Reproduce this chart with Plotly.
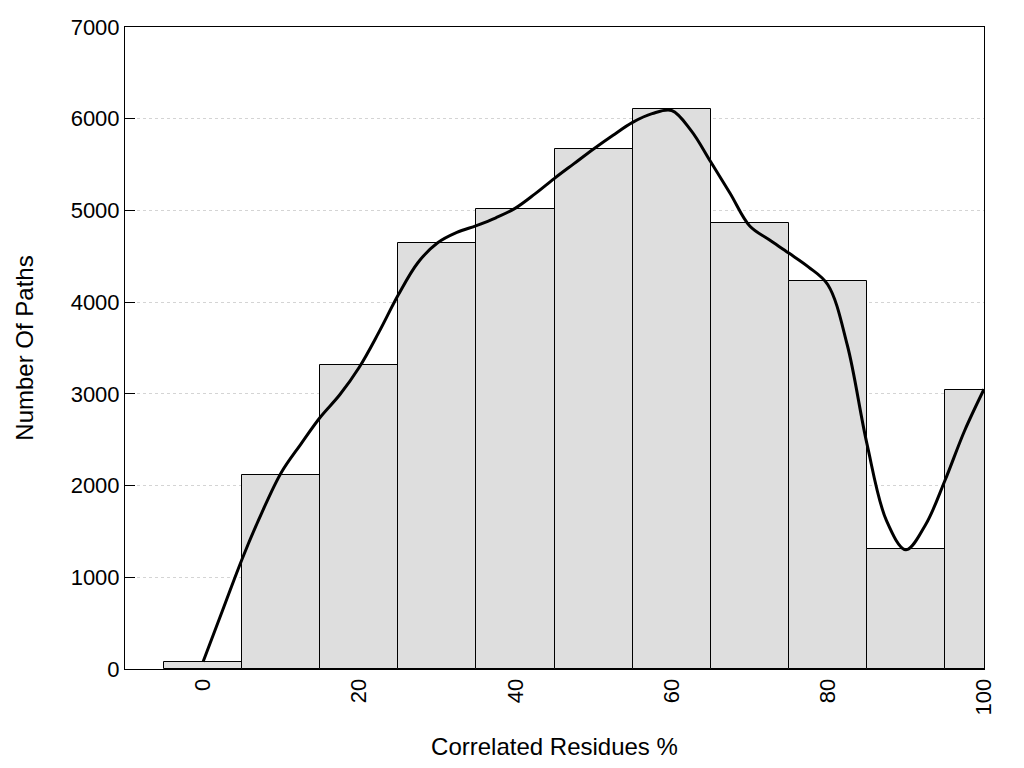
import plotly.graph_objects as go

# Histogram bins (centre, %) and counts
bin_centers = [0, 10, 20, 30, 40, 50, 60, 70, 80, 90, 100]
bin_counts = [80, 2115, 3315, 4645, 5015, 5670, 6105, 4865, 4230, 1310, 3040]

# Smoothed density curve
curve_x = [0, 2.5, 5, 7.5, 10, 12.5, 15, 17.5, 20, 22.5, 25, 27.5, 30, 32.5,
           35, 37.5, 40, 42.5, 45, 47.5, 50, 52.5, 55, 57.5, 60, 62.5, 65,
           67.5, 70, 72.5, 75, 77.5, 80, 82.5, 85, 87.5, 90, 92.5, 95, 97.5, 100]
curve_y = [80, 640, 1200, 1700, 2140, 2450, 2745, 2990, 3290, 3670, 4080,
           4430, 4645, 4760, 4835, 4920, 5025, 5180, 5350, 5510, 5670, 5820,
           5960, 6055, 6090, 5870, 5530, 5185, 4830, 4680, 4535, 4385, 4190,
           3530, 2460, 1620, 1300, 1570, 2055, 2595, 3050]

x_ticks = [0, 20, 40, 60, 80, 100]
y_ticks = [0, 1000, 2000, 3000, 4000, 5000, 6000, 7000]

FONT = "Liberation Sans, Arial, sans-serif"

fig = go.Figure()
fig.add_trace(go.Bar(
    x=bin_centers, y=bin_counts, width=10,
    marker=dict(color="#DEDEDE", line=dict(color="black", width=1)),
    showlegend=False, hoverinfo="x+y",
))
fig.add_trace(go.Scatter(
    x=curve_x, y=curve_y, mode="lines",
    line=dict(color="black", width=3, shape="spline", smoothing=1.0),
    showlegend=False,
))

fig.update_layout(
    width=1008, height=752,
    margin=dict(l=117, r=32, t=19, b=91),
    paper_bgcolor="white", plot_bgcolor="white",
    font=dict(family=FONT, size=22, color="black"),
    bargap=0,
)
fig.update_xaxes(
    range=[-10, 100], tickvals=x_ticks, ticktext=[str(v) for v in x_ticks],
    tickangle=-90, ticks="", showgrid=False, zeroline=False,
    showline=True, linecolor="black", linewidth=1, mirror=True,
    tickfont=dict(size=22), automargin=False,
    title=dict(text="Correlated Residues %", font=dict(size=24), standoff=26),
)
fig.update_yaxes(
    range=[0, 7000], tickvals=y_ticks, ticktext=[str(v) for v in y_ticks],
    ticks="inside", ticklen=10, tickcolor="black", tickwidth=1,
    showgrid=True, gridcolor="#d4d4d4", griddash="dot", gridwidth=1,
    zeroline=False,
    showline=True, linecolor="black", linewidth=1, mirror=True,
    tickfont=dict(size=22), automargin=False,
    title=dict(text="Number Of Paths", font=dict(size=24), standoff=30),
)

fig.write_html("out.html")
